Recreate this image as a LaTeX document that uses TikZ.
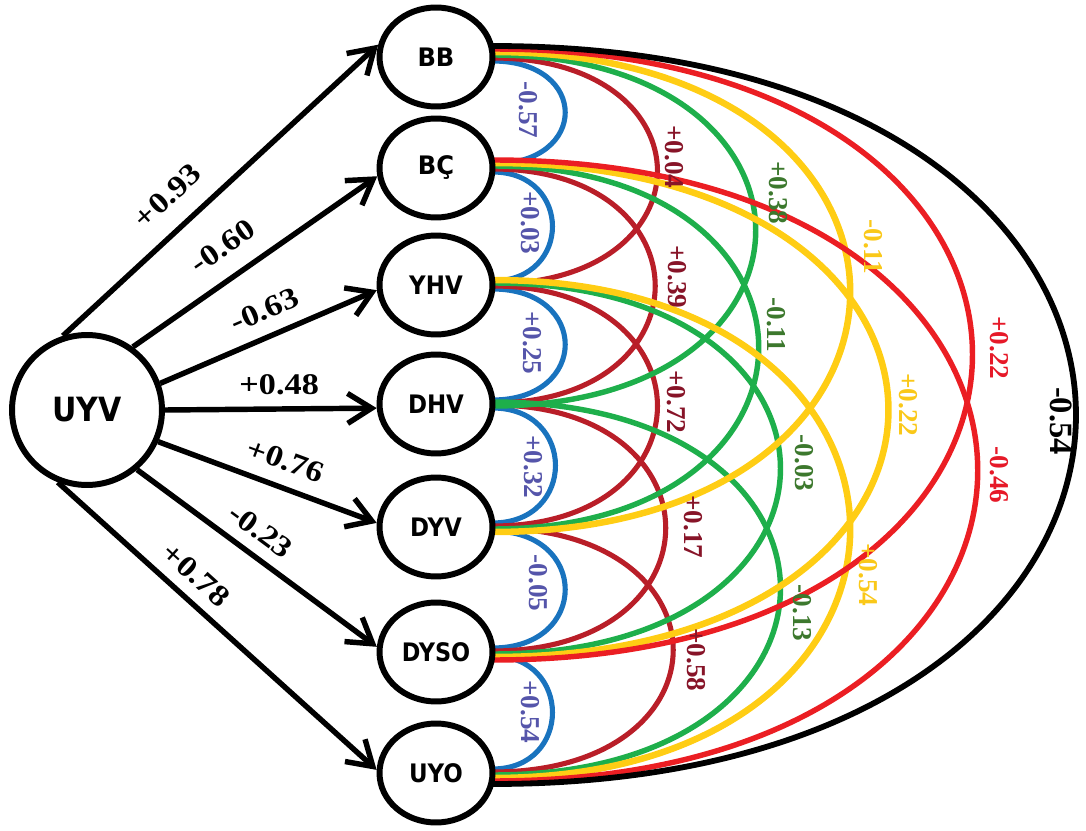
\documentclass[tikz,border=0pt]{standalone}
\usepackage{fontspec}
\usepackage{graphicx}
\usetikzlibrary{arrows.meta,shapes.geometric,calc}
\newfontfamily\sansfnt{DejaVu Sans}
\newfontfamily\serffnt{Liberation Serif}
\pgfdeclarelayer{bg}
\pgfsetlayers{bg,main}
\definecolor{cblue}{RGB}{25,115,190}
\definecolor{lblue}{RGB}{85,85,170}
\definecolor{cdred}{RGB}{185,30,40}
\definecolor{ldred}{RGB}{135,20,40}
\definecolor{cgreen}{RGB}{30,175,75}
\definecolor{lgreen}{RGB}{60,120,45}
\definecolor{cyellow}{RGB}{255,205,20}
\definecolor{lyellow}{RGB}{250,200,25}
\definecolor{cred}{RGB}{235,30,35}
\definecolor{lred}{RGB}{230,25,40}
\begin{document}
\begin{tikzpicture}[x=0.02cm,y=-0.02cm,
  var/.style={ellipse, draw, fill=white, line width=3.4pt, minimum width=2.26cm, minimum height=1.98cm, inner sep=0pt, font=\sansfnt\bfseries\fontsize{14.5}{14.5}\selectfont},
  root/.style={circle, draw, fill=white, line width=3.4pt, minimum size=3.0cm, inner sep=0pt, font=\sansfnt\bfseries\fontsize{19}{19}\selectfont},
  arr/.style={line width=3.1pt, -{Straight Barb[length=0.48cm,width=0.6cm]}},
  alab/.style={font=\serffnt\bfseries\fontsize{17}{17}\selectfont, sloped, inner sep=0pt},
  clab/.style={font=\serffnt\bfseries\fontsize{15.5}{15.5}\selectfont, rotate=-90, inner sep=0pt},
  barc/.style={draw=cblue, line width=2.9pt},
  drarc/.style={draw=cdred, line width=2.9pt},
  garc/.style={draw=cgreen, line width=3.1pt},
  yarc/.style={draw=cyellow, line width=3.7pt},
  rarc/.style={draw=cred, line width=3.1pt},
  karc/.style={draw=black, line width=3.3pt}]
\useasboundingbox (0,0) rectangle (1086,831);

\node[root] (UYV) at (87,410) {\scalebox{0.9}[1]{UYV}};
\node[var] (BB) at (436,57) {\scalebox{0.95}[1]{BB}};
\node[var] (BC) at (436,168) {\scalebox{0.95}[1]{BÇ}};
\node[var] (YHV) at (436,285) {\scalebox{0.9}[1]{YHV}};
\node[var] (DHV) at (436,404) {\scalebox{0.9}[1]{DHV}};
\node[var] (DYV) at (436,527) {\scalebox{0.9}[1]{DYV}};
\node[var] (DYSO) at (436,652) {\scalebox{0.88}[1]{DYSO}};
\node[var] (UYO) at (436,773) {\scalebox{0.9}[1]{UYO}};

\begin{pgfonlayer}{bg}
% blue, distance 1
\draw[barc] ($(BB.east)+(-3,4)$) .. controls +(97,0) and +(97,0) .. ($(BC.east)+(-3,-4)$);
\draw[barc] ($(BC.east)+(-3,4)$) .. controls +(80,0) and +(80,0) .. ($(YHV.east)+(-3,-4)$);
\draw[barc] ($(YHV.east)+(-3,4)$) .. controls +(97,0) and +(97,0) .. ($(DHV.east)+(-3,-4)$);
\draw[barc] ($(DHV.east)+(-3,4)$) .. controls +(84,0) and +(84,0) .. ($(DYV.east)+(-3,-4)$);
\draw[barc] ($(DYV.east)+(-3,4)$) .. controls +(97,0) and +(97,0) .. ($(DYSO.east)+(-3,-4)$);
\draw[barc] ($(DYSO.east)+(-3,4)$) .. controls +(80,0) and +(80,0) .. ($(UYO.east)+(-3,-4)$);
% dark red, distance 2
\draw[drarc] ($(BB.east)+(-3,1)$) .. controls +(220,0) and +(220,0) .. ($(YHV.east)+(-3,-1)$);
\draw[drarc] ($(BC.east)+(-3,1)$) .. controls +(217,0) and +(217,0) .. ($(DHV.east)+(-3,-1)$);
\draw[drarc] ($(YHV.east)+(-3,1)$) .. controls +(220,0) and +(220,0) .. ($(DYV.east)+(-3,-1)$);
\draw[drarc] ($(DHV.east)+(-3,1)$) .. controls +(231,0) and +(231,0) .. ($(DYSO.east)+(-3,-1)$);
\draw[drarc] ($(DYV.east)+(-3,1)$) .. controls +(241,0) and +(241,0) .. ($(UYO.east)+(-3,-1)$);
% green, distance 3
\draw[garc] ($(BB.east)+(-3,-2)$) .. controls +(351,0) and +(351,0) .. ($(DHV.east)+(-3,2)$);
\draw[garc] ($(BC.east)+(-3,-2)$) .. controls +(355,0) and +(355,0) .. ($(DYV.east)+(-3,2)$);
\draw[garc] ($(YHV.east)+(-3,-2)$) .. controls +(384,0) and +(384,0) .. ($(DYSO.east)+(-3,2)$);
\draw[garc] ($(DHV.east)+(-3,-2)$) .. controls +(384,0) and +(384,0) .. ($(UYO.east)+(-3,2)$);
% yellow, distance 4
\draw[yarc] ($(BB.east)+(-3,-5)$) .. controls +(477,0) and +(477,0) .. ($(DYV.east)+(-3,5)$);
\draw[yarc] ($(BC.east)+(-3,-5)$) .. controls +(528,0) and +(528,0) .. ($(DYSO.east)+(-3,5)$);
\draw[yarc] ($(YHV.east)+(-3,-5)$) .. controls +(477,0) and +(477,0) .. ($(UYO.east)+(-3,5)$);
% red, distance 5
\draw[rarc] ($(BB.east)+(-3,-8)$) .. controls +(640,0) and +(640,0) .. ($(DYSO.east)+(-3,8)$);
\draw[rarc] ($(BC.east)+(-3,-8)$) .. controls +(647,0) and +(647,0) .. ($(UYO.east)+(-3,8)$);
% black, distance 6
\draw[karc] ($(BB.east)+(-3,-11)$) .. controls +(778,0) and +(778,0) .. ($(UYO.east)+(-3,11)$);
\end{pgfonlayer}

% arc labels
\node[clab, text=lblue] (l1) at (528,110) {-0.57};
\node[clab, text=lblue] (l2) at (530,223) {+0.03};
\node[clab, text=lblue] (l3) at (532,343) {+0.25};
\node[clab, text=lblue] (l4) at (533,467) {+0.32};
\node[clab, text=lblue] (l5) at (538,583) {-0.05};
\node[clab, text=lblue] (l6) at (530,712) {+0.54};
\node[clab, text=ldred] (l7) at (674,157) {+0.04};
\node[clab, text=ldred] (l8) at (677,277) {+0.39};
\node[clab, text=ldred] (l9) at (676,402) {+0.72};
\node[clab, text=ldred] (l10) at (693,527) {+0.17};
\node[clab, text=ldred] (l11) at (696,660) {+0.58};
\node[clab, text=lgreen] (l12) at (778,193) {+0.38};
\node[clab, text=lgreen] (l13) at (776,325) {-0.11};
\node[clab, text=lgreen] (l14) at (804,463) {-0.03};
\node[clab, text=lgreen] (l15) at (802,613) {-0.13};
\node[clab, text=lyellow] (l16) at (873,247) {-0.11};
\node[clab, text=lyellow] (l17) at (908,405) {+0.22};
\node[clab, text=lyellow] (l18) at (868,575) {+0.54};
\node[clab, text=lred] (l19) at (999,348) {+0.22};
\node[clab, text=lred] (l20) at (999,475) {-0.46};
\node[clab, text=black, font=\serffnt\bfseries\fontsize{18.5}{18.5}\selectfont] (l21) at (1061,421) {-0.54};

% arrows
\draw[arr] (UYV.108) -- node[alab, pos=0.40, above=0.38cm] {\scalebox{1.15}[1]{+0.93}} (BB.168);
\draw[arr] (UYV.54) -- node[alab, pos=0.44, above=0.36cm] {\scalebox{1.15}[1]{-0.60}} (BC.188);
\draw[arr] (UYV.20) -- node[alab, pos=0.53, above=0.27cm] {\scalebox{1.15}[1]{-0.63}} (YHV.185);
\draw[arr] (UYV.0) -- node[alab, pos=0.54, above=0.23cm] {\scalebox{1.15}[1]{+0.48}} (DHV.184);
\draw[arr] (UYV.-24) -- node[alab, pos=0.54, above=0.27cm] {\scalebox{1.15}[1]{+0.76}} (DYV.176);
\draw[arr] (UYV.-50) -- node[alab, pos=0.455, above=0.23cm] {\scalebox{1.15}[1]{-0.23}} (DYSO.175);
\draw[arr] (UYV.-112) -- node[alab, pos=0.383, above=0.22cm] {\scalebox{1.15}[1]{+0.78}} (UYO.177);
\end{tikzpicture}
\end{document}
